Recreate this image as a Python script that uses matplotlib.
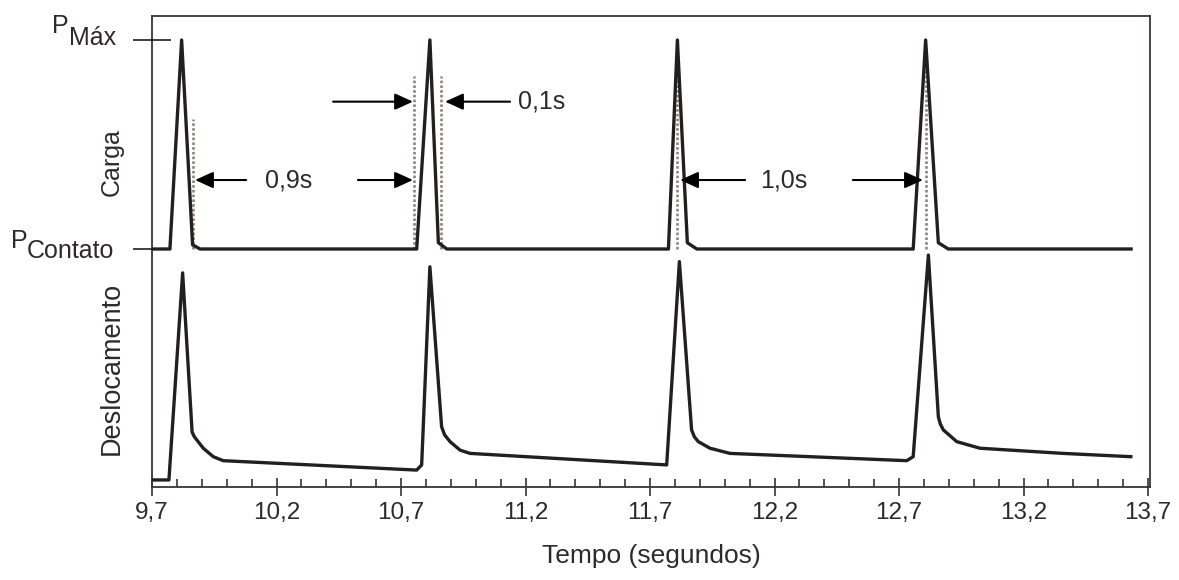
import numpy as np
import matplotlib
matplotlib.use('Agg')
import matplotlib.pyplot as plt

plt.rcParams['font.family'] = ['Liberation Sans', 'DejaVu Sans']

# --- data (time in s) ---
# load pulses: 0 = P contato, 1 = P max
load_t = [9.700, 9.772, 9.819, 9.863, 9.893,
          10.763, 10.816, 10.850, 10.884,
          11.774, 11.810, 11.850, 11.888,
          12.757, 12.807, 12.858, 12.898, 13.632]
load_p = [0.0, 0.0, 1.0, 0.02, 0.0,
          0.0, 1.0, 0.03, 0.0,
          0.0, 1.0, 0.03, 0.0,
          0.0, 1.0, 0.03, 0.0, 0.0]

# displacement (relative units)
disp_t = [9.700, 9.768, 9.823, 9.861, 9.870, 9.880, 9.906, 9.946, 9.986,
          10.763, 10.783, 10.816, 10.863, 10.875, 10.897, 10.937, 10.977,
          11.767, 11.818, 11.867, 11.878, 11.894, 11.941, 12.021,
          12.731, 12.757, 12.818, 12.858, 12.866, 12.878, 12.932, 13.025, 13.359, 13.631]
disp_v = [0.030, 0.030, 0.911, 0.234, 0.214, 0.200, 0.165, 0.129, 0.112,
          0.072, 0.094, 0.937, 0.257, 0.222, 0.193, 0.157, 0.143,
          0.094, 0.959, 0.243, 0.214, 0.193, 0.165, 0.143,
          0.112, 0.129, 0.987, 0.299, 0.268, 0.243, 0.193, 0.165, 0.143, 0.129]

# dotted guide lines (time, top in load units)
guide_t = [9.863, 10.752, 10.859, 11.810, 12.807]
guide_top = [0.62, 0.83, 0.83, 0.86, 0.86]

# dimension arrows (tail, tip, level in load units)
arrow_tail = [10.078, 10.527, 10.427, 11.138, 12.082, 12.515]
arrow_tip = [9.873, 10.748, 10.748, 10.877, 11.821, 12.796]
arrow_lvl = [0.33, 0.33, 0.705, 0.705, 0.33, 0.33]

span_text = ['0,9s', '0,1s', '1,0s']
span_x = [10.247, 11.265, 12.238]
span_lvl = [0.33, 0.705, 0.33]

tick_vals = [9.7, 10.2, 10.7, 11.2, 11.7, 12.2, 12.7, 13.2, 13.7]
tick_labels = ['9,7', '10,2', '10,7', '11,2', '11,7', '12,2', '12,7', '13,2', '13,7']

# --- layout (pixels of the 1179x580 picture) ---
W, H = 1179, 580
left_px, right_px, top_px, bot_px = 152, 1150, 15.7, 487
split_px = 252          # border between load and displacement bands
p0_px, p1_px = 249, 40  # P contato / P max levels
px_per_s = 249.0

line_c = '#231f20'
text_c = '#2e2a2a'
guide_c = '#8f8480'

fig = plt.figure(figsize=(W / 100, H / 100), dpi=100)
ax = fig.add_axes([left_px / W, 1 - bot_px / H,
                   (right_px - left_px) / W, (bot_px - top_px) / H])
xmax = 9.7 + (right_px - left_px) / px_per_s
ax.set_xlim(9.7, xmax)
ax.set_ylim(0, 1)
ax.set_yticks([])
for s in ax.spines.values():
    s.set_color('#3a3434')
    s.set_linewidth(1.3)

ax.set_xticks(tick_vals, labels=tick_labels)
minor = [v for v in np.round(np.arange(9.8, 13.7, 0.1), 1) if v not in tick_vals]
ax.set_xticks(minor, minor=True)
ax.tick_params(axis='x', which='major', direction='inout', length=13, width=1.2,
               colors='#3a3434', labelsize=17.5, labelcolor=text_c, pad=4)
ax.tick_params(axis='x', which='minor', direction='in', length=6, width=1.2,
               colors='#3a3434')
ax.set_xlabel('Tempo (segundos)', fontsize=19, color=text_c, labelpad=15)

split = (bot_px - split_px) / (bot_px - top_px)

# load band
ax_load = ax.inset_axes([0, split, 1, 1 - split])
ax_load.set_facecolor('none')
ax_load.set_xlim(9.7, xmax)
span = p0_px - p1_px
ax_load.set_ylim(-(split_px - p0_px) / span, 1 + (p1_px - top_px) / span)
for s in ax_load.spines.values():
    s.set_visible(False)
ax_load.xaxis.set_visible(False)
ax_load.set_yticks([0, 1], labels=['', ''])
ax_load.tick_params(axis='y', direction='inout', length=27, width=1.2, colors=line_c)

ax_load.vlines(guide_t, 0, guide_top, colors=guide_c, linestyles=(0, (1, 0.8)), lw=1.9)
ax_load.plot(load_t, load_p, color=line_c, lw=2.4)

for a, b, y in zip(arrow_tail, arrow_tip, arrow_lvl):
    ax_load.annotate('', xy=(b, y), xytext=(a, y),
                     arrowprops=dict(arrowstyle='-|>,head_length=0.55,head_width=0.25',
                                     color='black', lw=1.5, mutation_scale=20,
                                     shrinkA=0, shrinkB=0))
for s, x, y in zip(span_text, span_x, span_lvl):
    ax_load.text(x, y, s, ha='center', va='center', fontsize=18, color=text_c)

# displacement band
ax_disp = ax.inset_axes([0, 0, 1, split])
ax_disp.set_facecolor('none')
ax_disp.set_xlim(9.7, xmax)
ax_disp.set_ylim(0, 1)
ax_disp.axis('off')
ax_disp.plot(disp_t, disp_v, color=line_c, lw=2.4)

# side labels
fig.text(112 / W, 1 - 162 / H, 'Carga', rotation=90, ha='center', va='center',
         fontsize=18, color=text_c)
fig.text(112 / W, 1 - 368 / H, 'Deslocamento', rotation=90, ha='center', va='center',
         fontsize=19.5, color=text_c)
fig.text(52 / W, 1 - 33 / H, 'P', ha='left', va='baseline', fontsize=18, color=text_c)
fig.text(69 / W, 1 - 45 / H, 'Máx', ha='left', va='baseline', fontsize=18, color=text_c)
fig.text(11 / W, 1 - 248 / H, 'P', ha='left', va='baseline', fontsize=18, color=text_c)
fig.text(27 / W, 1 - 258 / H, 'Contato', ha='left', va='baseline', fontsize=18, color=text_c)

fig.savefig('out.png', dpi=100)
